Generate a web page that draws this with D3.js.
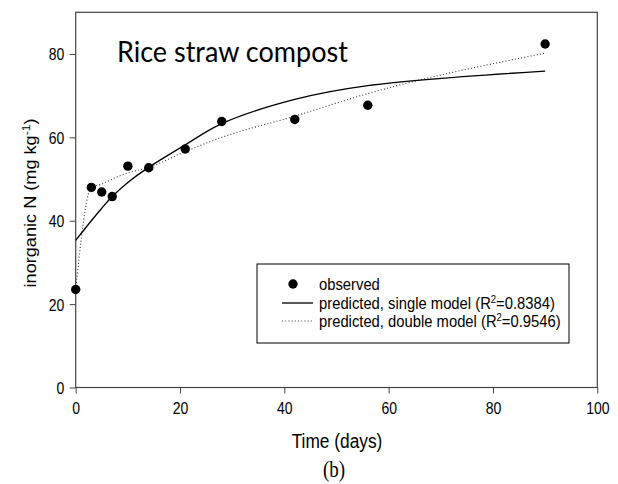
<!DOCTYPE html>
<html>
<head>
<meta charset="utf-8">
<style>
body { margin: 0; background: #fff; }
svg text { fill: #000; }
.axis text { font: 14px "Liberation Sans", Arial, sans-serif; }
.axis path, .axis line { stroke: #444; }
</style>
<script src="https://d3js.org/d3.v7.min.js"></script>
</head>
<body>
<svg width="618" height="484"></svg>
<script>
// observed inorganic N (mg/kg) by day
var days      = [0, 3, 5, 7, 10, 14, 21, 28, 42, 56, 90];
var observed  = [23.5, 48.0, 46.9, 45.8, 53.1, 52.7, 57.2, 63.8, 64.3, 67.7, 82.4];
// model predictions at the same days
var singleFit = [35.3, 40.0, 43.0, 45.8, 49.2, 52.8, 58.2, 63.3, 69.1, 72.4, 75.9];
var doubleFit = [23.5, 48.0, 48.8, 50.0, 51.5, 52.8, 56.6, 60.0, 65.1, 70.5, 80.2];
var xTicks = [0, 20, 40, 60, 80, 100];
var yTicks = [0, 20, 40, 60, 80];

var svg = d3.select("svg");
// plot box ("top" is taken on window, hence the p prefix)
var pLeft = 75.7, pRight = 597.3, pTop = 12.3, pBottom = 387.5;
var stretch = 1.2;   // source figure text is a bit tall

var x = d3.scaleLinear().domain([0, 100]).range([pLeft, pRight]);
var y = d3.scaleLinear().domain([0, 90]).range([pBottom, pTop]);

// frame
svg.append("rect")
    .attr("x", pLeft).attr("y", pTop)
    .attr("width", pRight - pLeft).attr("height", pBottom - pTop)
    .attr("fill", "none").attr("stroke", "#444").attr("stroke-width", 1.2);

svg.append("g").attr("class", "axis")
    .attr("transform", "translate(0," + pBottom + ")")
    .call(d3.axisBottom(x).tickValues(xTicks).tickSize(6).tickSizeOuter(0))
  .selectAll("text")
    .attr("y", null).attr("dy", null)
    .attr("transform", "translate(0,26.5) scale(1," + stretch + ")");

svg.append("g").attr("class", "axis")
    .attr("transform", "translate(" + pLeft + ",0)")
    .call(d3.axisLeft(y).tickValues(yTicks).tickSize(6).tickSizeOuter(0))
  .selectAll("text")
    .attr("x", null).attr("dy", null)
    .attr("transform", "translate(-11.5,6) scale(1," + stretch + ")");

svg.selectAll(".axis .domain").remove();

// title inside plot
svg.append("text")
    .attr("transform", "translate(117,62) scale(1,1.06)")
    .style("font", "27px Lato, 'Open Sans', sans-serif")
    .text("Rice straw compost");

// model curves
var line = function(vals, curve) {
  return d3.line()
    .x(function(d, i) { return x(days[i]); })
    .y(function(d) { return y(d); })
    .curve(curve)(vals);
};

svg.append("path")
    .attr("d", line(doubleFit, d3.curveMonotoneX))
    .attr("fill", "none").attr("stroke", "#333")
    .attr("stroke-width", 1.1).attr("stroke-dasharray", "1,2.2");

svg.append("path")
    .attr("d", line(singleFit, d3.curveCatmullRom.alpha(0.5)))
    .attr("fill", "none").attr("stroke", "#000").attr("stroke-width", 1.3);

svg.selectAll("circle.obs")
    .data(observed)
  .enter().append("circle")
    .attr("class", "obs")
    .attr("cx", function(d, i) { return x(days[i]); })
    .attr("cy", function(d) { return y(d); })
    .attr("r", 4.7)
    .attr("fill", "#000");

// legend
var lg = svg.append("g").style("font", "14.8px 'Liberation Sans', Arial, sans-serif");
lg.append("rect")
    .attr("x", 257).attr("y", 264).attr("width", 312).attr("height", 79)
    .attr("fill", "#fff").attr("stroke", "#000").attr("stroke-width", 1);

lg.append("circle").attr("cx", 293).attr("cy", 284).attr("r", 4.7).attr("fill", "#000");
lg.append("line").attr("x1", 282).attr("x2", 313).attr("y1", 303).attr("y2", 303)
    .attr("stroke", "#000").attr("stroke-width", 1.3);
lg.append("line").attr("x1", 282).attr("x2", 313).attr("y1", 321).attr("y2", 321)
    .attr("stroke", "#333").attr("stroke-width", 1.1).attr("stroke-dasharray", "1,2.2");

lg.append("text")
    .attr("transform", "translate(319,289.5) scale(1,1.12)")
    .text("observed");

var labels = [["predicted, single model (R", "=0.8384)", 308.5], ["predicted, double model (R", "=0.9546)", 326.5]];
labels.forEach(function(l) {
  var t = lg.append("text").attr("transform", "translate(319," + l[2] + ") scale(1,1.12)");
  t.append("tspan").text(l[0]);
  t.append("tspan").attr("dy", -5).style("font-size", "9.5px").text("2");
  t.append("tspan").attr("dy", 5).text(l[1]);
});

// axis titles
svg.append("text")
    .attr("transform", "translate(337,448) scale(1," + stretch + ")")
    .attr("text-anchor", "middle")
    .style("font", "17.3px 'Liberation Sans', Arial, sans-serif")
    .text("Time (days)");

var yl = svg.append("text")
    .attr("transform", "translate(36,203) rotate(-90) scale(1.1,1)")
    .attr("text-anchor", "middle")
    .style("font", "16.5px 'Liberation Sans', Arial, sans-serif");
yl.append("tspan").text("inorganic N (mg kg");
yl.append("tspan").attr("dy", -6.5).style("font-size", "11px").text("-1");
yl.append("tspan").attr("dy", 6.5).text(")");

svg.append("text")
    .attr("transform", "translate(334,477) scale(1," + stretch + ")")
    .attr("text-anchor", "middle")
    .style("font", "19px 'Liberation Serif', 'Times New Roman', serif")
    .text("(b)");
</script>
</body>
</html>
